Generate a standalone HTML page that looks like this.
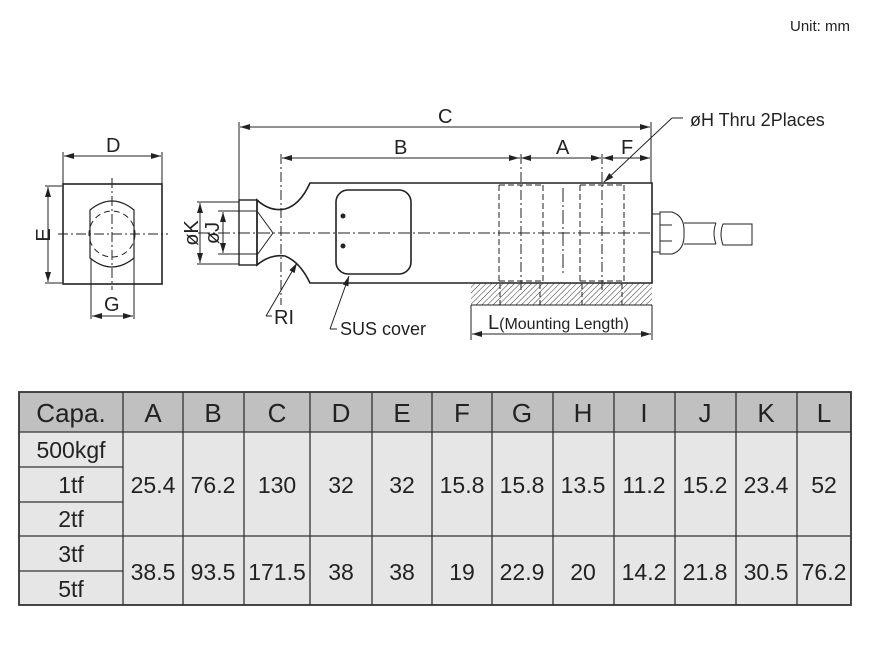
<!DOCTYPE html>
<html><head><meta charset="utf-8"><style>
html,body{margin:0;padding:0;background:#fff;}
svg{display:block;font-family:"Liberation Sans",sans-serif;}
</style></head><body>
<svg width="870" height="652" viewBox="0 0 870 652" xmlns="http://www.w3.org/2000/svg">
<defs>
<marker id="ar" viewBox="0 0 10 6" refX="10" refY="3" markerWidth="12" markerHeight="6" orient="auto-start-reverse" markerUnits="userSpaceOnUse"><path d="M0,0 L10,3 L0,6 z" fill="#222"/></marker>
<pattern id="hatch" width="4" height="4" patternUnits="userSpaceOnUse" patternTransform="rotate(45)"><line x1="0" y1="0" x2="0" y2="4" stroke="#333" stroke-width="1"/></pattern>
</defs>
<text x="790" y="31" font-size="15" fill="#222">Unit: mm</text>

<g stroke="#222" fill="none" stroke-width="1">
<rect x="63" y="184" width="99" height="100" stroke-width="1.6"/>
<line x1="63" y1="184" x2="63" y2="152"/><line x1="162" y1="184" x2="162" y2="152"/>
<line x1="64" y1="156" x2="161" y2="156" marker-start="url(#ar)" marker-end="url(#ar)"/>
<line x1="45" y1="186" x2="62" y2="186"/><line x1="45" y1="283" x2="62" y2="283"/>
<line x1="48" y1="187" x2="48" y2="282" marker-start="url(#ar)" marker-end="url(#ar)"/>
<line x1="112" y1="178" x2="112" y2="290" stroke-dasharray="10,3,2,3"/>
<line x1="58" y1="234" x2="168" y2="234" stroke-dasharray="10,3,2,3"/>
<path d="M90,210 Q112,192 134,210 L134,258 Q112,276 90,258 Z" stroke-width="1.2"/>
<circle cx="112" cy="234" r="23" stroke-dasharray="6,4"/>
<line x1="91" y1="258" x2="91" y2="319"/><line x1="134" y1="258" x2="134" y2="319"/>
<line x1="92" y1="316" x2="133" y2="316" marker-start="url(#ar)" marker-end="url(#ar)"/>

<line x1="239" y1="122" x2="239" y2="200"/>
<line x1="651" y1="122" x2="651" y2="183"/>
<line x1="240" y1="127" x2="650" y2="127" marker-start="url(#ar)" marker-end="url(#ar)"/>
<line x1="282" y1="158" x2="520" y2="158" marker-start="url(#ar)"/>
<line x1="508" y1="158" x2="519" y2="158" marker-end="url(#ar)"/>
<line x1="521" y1="158" x2="532" y2="158" marker-start="url(#ar)"/>
<line x1="532" y1="158" x2="590" y2="158"/>
<line x1="590" y1="158" x2="601" y2="158" marker-end="url(#ar)"/>
<line x1="603" y1="158" x2="614" y2="158" marker-start="url(#ar)"/>
<line x1="614" y1="158" x2="638" y2="158"/>
<line x1="638" y1="158" x2="650" y2="158" marker-end="url(#ar)"/>
<line x1="281" y1="154" x2="281" y2="305" stroke-dasharray="10,3,2,3"/>
<line x1="521" y1="154" x2="521" y2="290" stroke-dasharray="10,3,2,3"/>
<line x1="602" y1="154" x2="602" y2="290" stroke-dasharray="10,3,2,3"/>

<path d="M310,183 L652,183 L652,283 L310,283 Q300,262 285,256 Q270,254 257,265 L257,200 Q270,212 285,209 Q300,205 310,183 Z" stroke-width="1.6"/>
<rect x="239" y="200" width="18" height="65" stroke-width="1.4"/>
<path d="M257,211 L273,233 L257,255"/>
<line x1="198" y1="233" x2="652" y2="233" stroke-dasharray="12,3,2,3"/>
<line x1="197" y1="202" x2="239" y2="202"/><line x1="197" y1="264" x2="239" y2="264"/>
<line x1="200" y1="203" x2="200" y2="263" marker-start="url(#ar)" marker-end="url(#ar)"/>
<line x1="218" y1="211" x2="257" y2="211"/><line x1="218" y1="254" x2="257" y2="254"/>
<line x1="223" y1="212" x2="223" y2="253" marker-start="url(#ar)" marker-end="url(#ar)"/>
<rect x="336" y="190" width="75" height="84" rx="12" stroke-width="1.6"/>
<circle cx="343" cy="216" r="2" fill="#222"/><circle cx="343" cy="246" r="2" fill="#222"/>
<g stroke-dasharray="6,3">
<line x1="499" y1="185" x2="499" y2="282"/><line x1="543" y1="185" x2="543" y2="282"/>
<line x1="580" y1="185" x2="580" y2="282"/><line x1="624" y1="185" x2="624" y2="282"/>
<line x1="499" y1="185" x2="543" y2="185"/><line x1="580" y1="185" x2="624" y2="185"/>
<line x1="499" y1="281" x2="543" y2="281"/><line x1="580" y1="281" x2="624" y2="281"/>
</g>
<line x1="563" y1="188" x2="563" y2="276" stroke-dasharray="14,3,2,3"/>
<rect x="471" y="283" width="181" height="22" fill="url(#hatch)" stroke="none"/>
<line x1="471" y1="305" x2="652" y2="305"/>
<g stroke-dasharray="5,3"><line x1="500" y1="284" x2="500" y2="305"/><line x1="540" y1="284" x2="540" y2="305"/><line x1="582" y1="284" x2="582" y2="305"/><line x1="622" y1="284" x2="622" y2="305"/></g>
<rect x="652" y="214" width="8" height="38"/>
<path d="M660,212 L672,212 Q685,216 684,233 Q685,250 672,254 L660,254 Z"/>
<line x1="660" y1="225" x2="672" y2="225"/><line x1="660" y1="241" x2="672" y2="241"/>
<path d="M684,223 L716,223 M684,244 L716,244 M716,223 Q712,233 716,244"/>
<path d="M723,224 L752,224 L752,245 L723,245 Q719,234 723,224 Z"/>
<line x1="471" y1="305" x2="471" y2="340"/><line x1="652" y1="305" x2="652" y2="340"/>
<line x1="472" y1="334" x2="651" y2="334" marker-start="url(#ar)" marker-end="url(#ar)"/>
<line x1="683" y1="118" x2="672" y2="118"/>
<line x1="672" y1="118" x2="604" y2="182" marker-end="url(#ar)"/>
<line x1="272" y1="316" x2="266" y2="316"/>
<line x1="266" y1="316" x2="297" y2="263" marker-end="url(#ar)"/>
<line x1="337" y1="329" x2="330" y2="329"/>
<line x1="330" y1="329" x2="349" y2="276" marker-end="url(#ar)"/>
</g>
<g fill="#222" font-size="20">
<text x="106" y="152">D</text>
<text x="42" y="243" transform="rotate(-90 42 235)" text-anchor="middle">E</text>
<text x="104" y="311">G</text>
<text x="438" y="123">C</text>
<text x="394" y="154">B</text>
<text x="556" y="154">A</text>
<text x="621" y="154">F</text>
<text x="192" y="233" transform="rotate(-90 192 233)" text-anchor="middle" dy="6">øK</text>
<text x="213" y="233" transform="rotate(-90 213 233)" text-anchor="middle" dy="6">øJ</text>
<text x="274" y="324">RI</text>
<text x="340" y="335" font-size="18">SUS cover</text>
<text x="690" y="126" font-size="18">øH Thru 2Places</text>
<text x="488" y="329" font-size="20">L<tspan font-size="16">(Mounting Length)</tspan></text>
</g>

<g>
<rect x="19" y="392" width="832" height="40" fill="#c0c0c0"/>
<rect x="19" y="432" width="832" height="173" fill="#e6e6e6"/>
<g stroke="#333" stroke-width="1.3" fill="none">
<rect x="19" y="392" width="832" height="213" stroke-width="1.8"/>
<line x1="19" y1="432" x2="851" y2="432"/>
<line x1="19" y1="467" x2="123" y2="467"/>
<line x1="19" y1="502" x2="123" y2="502"/>
<line x1="19" y1="536" x2="851" y2="536"/>
<line x1="19" y1="571" x2="123" y2="571"/>
<line x1="123" y1="392" x2="123" y2="605"/><line x1="183" y1="392" x2="183" y2="605"/>
<line x1="244" y1="392" x2="244" y2="605"/><line x1="310" y1="392" x2="310" y2="605"/>
<line x1="372" y1="392" x2="372" y2="605"/><line x1="432" y1="392" x2="432" y2="605"/>
<line x1="492" y1="392" x2="492" y2="605"/><line x1="553" y1="392" x2="553" y2="605"/>
<line x1="614" y1="392" x2="614" y2="605"/><line x1="675" y1="392" x2="675" y2="605"/>
<line x1="736" y1="392" x2="736" y2="605"/><line x1="797" y1="392" x2="797" y2="605"/>
</g>
<g fill="#222" font-size="26" text-anchor="middle">
<text x="71" y="422">Capa.</text>
<text x="153" y="422">A</text><text x="213" y="422">B</text><text x="277" y="422">C</text>
<text x="341" y="422">D</text><text x="402" y="422">E</text><text x="462" y="422">F</text>
<text x="522" y="422">G</text><text x="583" y="422">H</text><text x="644" y="422">I</text>
<text x="705" y="422">J</text><text x="766" y="422">K</text><text x="824" y="422">L</text>
</g>
<g fill="#222" font-size="23" text-anchor="middle">
<text x="71" y="458">500kgf</text><text x="71" y="493">1tf</text><text x="71" y="527">2tf</text>
<text x="71" y="562">3tf</text><text x="71" y="597">5tf</text>
<text x="153" y="493">25.4</text><text x="213" y="493">76.2</text><text x="277" y="493">130</text>
<text x="341" y="493">32</text><text x="402" y="493">32</text><text x="462" y="493">15.8</text>
<text x="522" y="493">15.8</text><text x="583" y="493">13.5</text><text x="644" y="493">11.2</text>
<text x="705" y="493">15.2</text><text x="766" y="493">23.4</text><text x="824" y="493">52</text>
<text x="153" y="580">38.5</text><text x="213" y="580">93.5</text><text x="277" y="580">171.5</text>
<text x="341" y="580">38</text><text x="402" y="580">38</text><text x="462" y="580">19</text>
<text x="522" y="580">22.9</text><text x="583" y="580">20</text><text x="644" y="580">14.2</text>
<text x="705" y="580">21.8</text><text x="766" y="580">30.5</text><text x="824" y="580">76.2</text>
</g>
</g>
</svg>
</body></html>
